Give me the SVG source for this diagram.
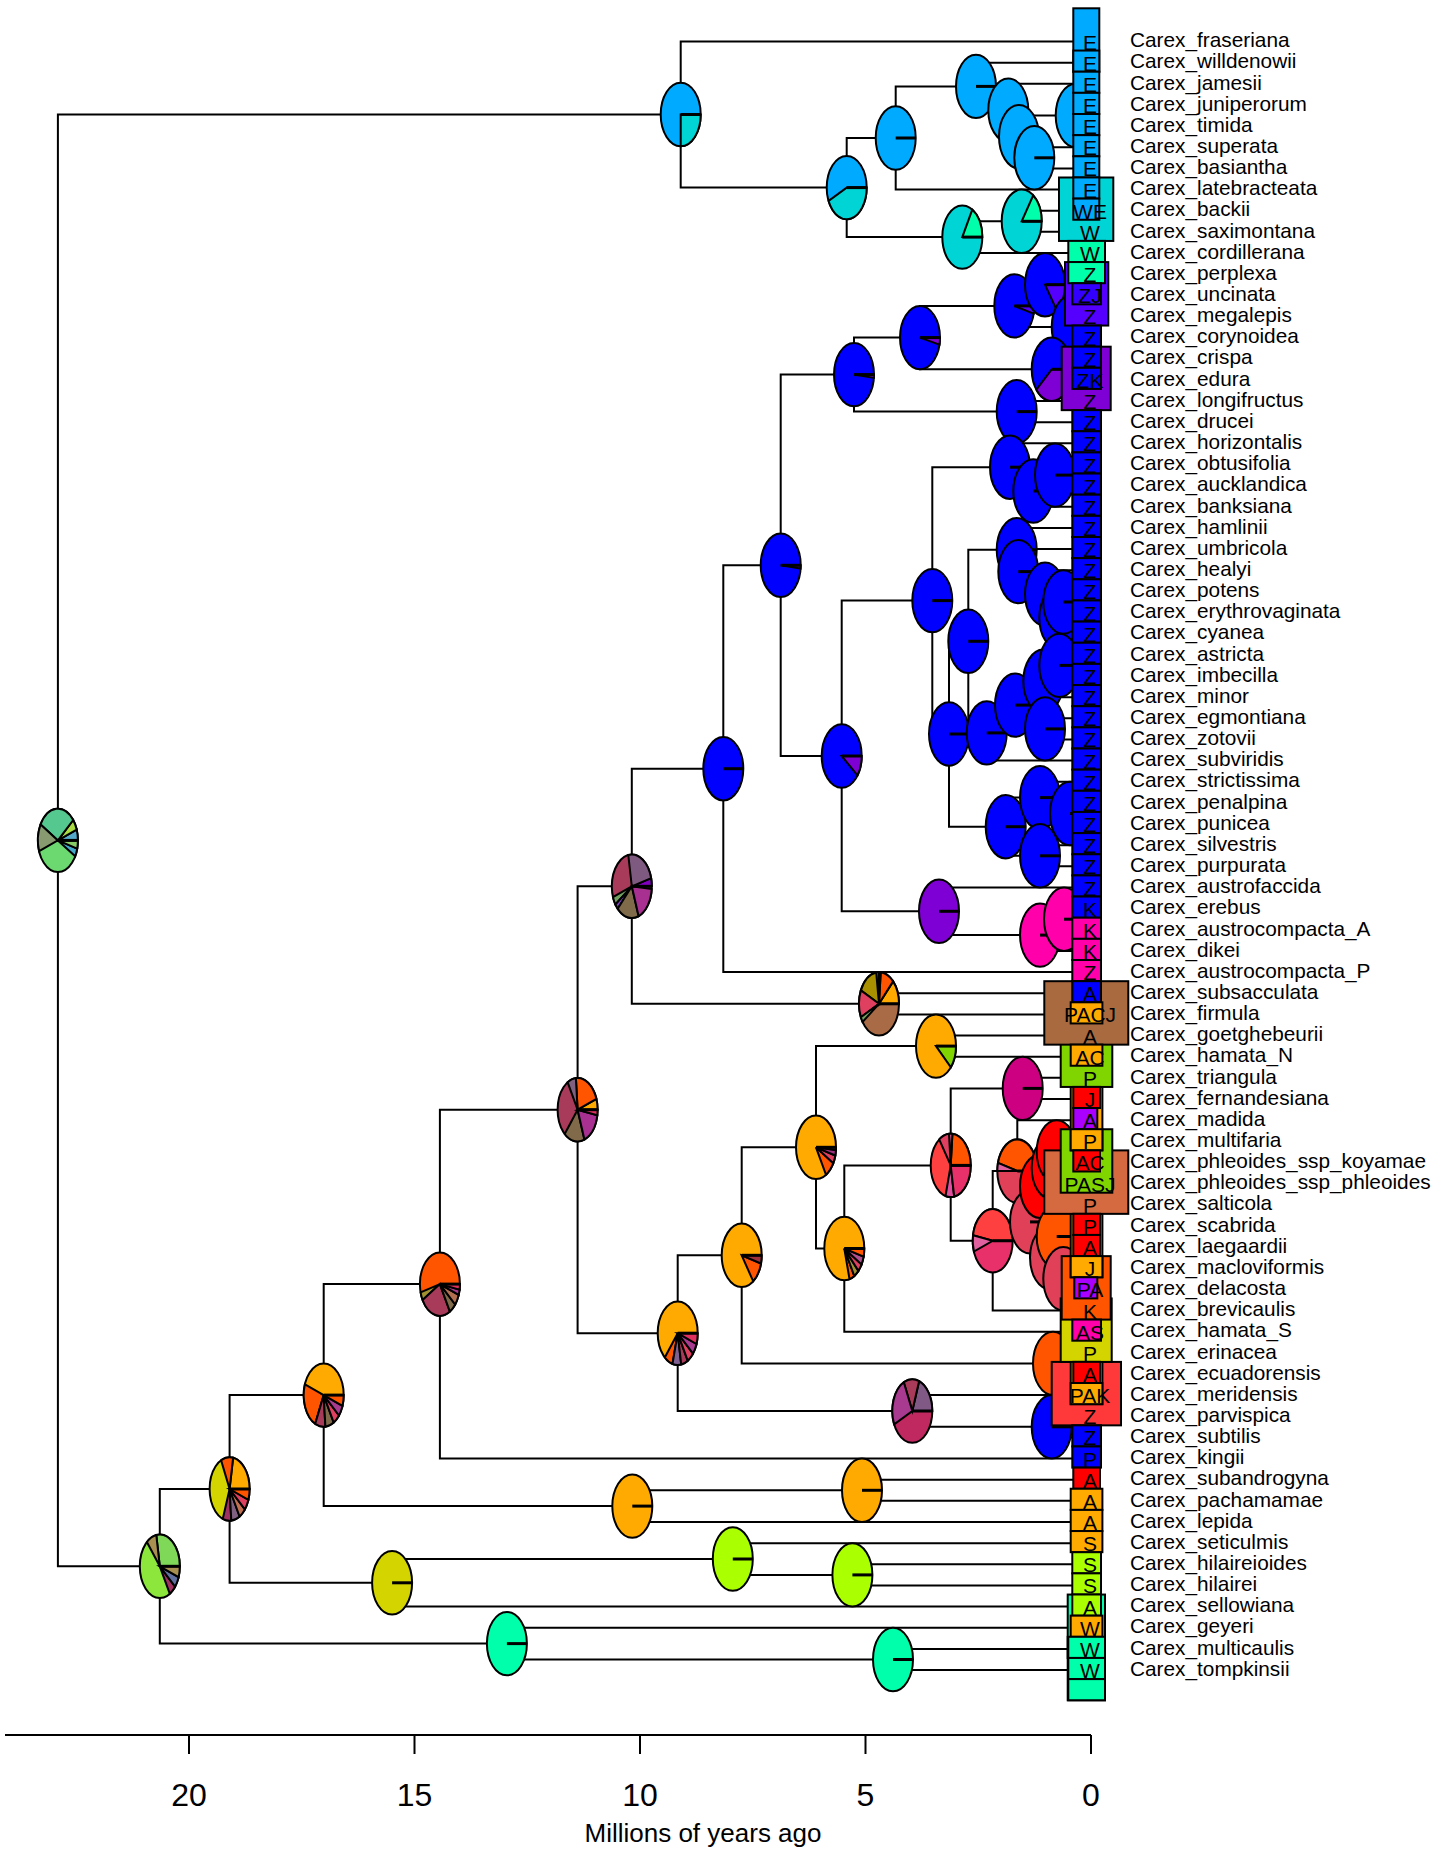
<svg xmlns="http://www.w3.org/2000/svg" width="1445" height="1849" viewBox="0 0 1445 1849">
<style>
.tree polyline{fill:none;stroke:#000;stroke-width:2}
.pie ellipse,.pie path{stroke:#000;stroke-width:2}
.pie path.ea{fill:none;stroke-width:3}
.bx rect{stroke:#000;stroke-width:2}
text{font-family:"Liberation Sans",Arial,sans-serif;fill:#000}
.lb{font-size:20.8px}
.lt{font-size:21px;text-anchor:middle}
.ax{font-size:32px;text-anchor:middle}
.E{fill:#00AAFF}.W{fill:#00FFAA}.Z{fill:#0000FF}.J{fill:#AA00FF}.K{fill:#FF00AA}.P{fill:#FF0000}.A{fill:#FFAA00}.S{fill:#AAFF00}
.WE{fill:#00D4D4}.ZJ{fill:#5500FF}.ZK{fill:#7F00D4}.OR{fill:#FF5500}.YE{fill:#D4D400}.LI{fill:#80D400}.RO{fill:#E04058}
</style>
<rect width="1445" height="1849" fill="#fff"/>
<g id="connectors" class="tree">
<polyline points="680.7,114.5 57.9,114.5 57.9,1566.3 159.8,1566.3"/>
<polyline points="1091,41.5 680.7,41.5 680.7,187.6 846.7,187.6"/>
<polyline points="895.7,138 846.7,138 846.7,237.1 962.3,237.1"/>
<polyline points="976,86.4 895.7,86.4 895.7,189.55 1091,189.55"/>
<polyline points="1091,62.65 976,62.65 976,110.2 1008.3,110.2"/>
<polyline points="1091,83.8 1008.3,83.8 1008.3,136.7 1019,136.7"/>
<polyline points="1075.7,115.5 1019,115.5 1019,157.8 1034.3,157.8"/>
<polyline points="1091,104.95 1075.7,104.95 1075.7,126.1 1091,126.1"/>
<polyline points="1091,147.25 1034.3,147.25 1034.3,168.4 1091,168.4"/>
<polyline points="1021.7,221.3 962.3,221.3 962.3,253 1091,253"/>
<polyline points="1091,210.7 1021.7,210.7 1021.7,231.85 1091,231.85"/>
<polyline points="229.6,1489 159.8,1489 159.8,1643.6 506.9,1643.6"/>
<polyline points="323.7,1395.1 229.6,1395.1 229.6,1582.8 392.1,1582.8"/>
<polyline points="439.9,1284.1 323.7,1284.1 323.7,1506.1 632.3,1506.1"/>
<polyline points="577.6,1109.7 439.9,1109.7 439.9,1458.55 1091,1458.55"/>
<polyline points="631.8,886.3 577.6,886.3 577.6,1333.2 677.7,1333.2"/>
<polyline points="723.3,768.7 631.8,768.7 631.8,1003.8 879,1003.8"/>
<polyline points="780.7,565.3 723.3,565.3 723.3,972.1 1091,972.1"/>
<polyline points="854,374.6 780.7,374.6 780.7,756 841.7,756"/>
<polyline points="920,337.6 854,337.6 854,411.6 1016.7,411.6"/>
<polyline points="1014.3,305.9 920,305.9 920,369.3 1051.7,369.3"/>
<polyline points="1045,284.7 1014.3,284.7 1014.3,327 1071.7,327"/>
<polyline points="1091,274.15 1045,274.15 1045,295.3 1091,295.3"/>
<polyline points="1091,316.45 1071.7,316.45 1071.7,337.6 1091,337.6"/>
<polyline points="1091,358.75 1051.7,358.75 1051.7,379.9 1091,379.9"/>
<polyline points="1091,401.05 1016.7,401.05 1016.7,422.2 1091,422.2"/>
<polyline points="932.3,600.6 841.7,600.6 841.7,911.3 939,911.3"/>
<polyline points="1010,467.2 932.3,467.2 932.3,734 949,734"/>
<polyline points="1091,443.35 1010,443.35 1010,491 1033.3,491"/>
<polyline points="1055,475.1 1033.3,475.1 1033.3,506.8 1091,506.8"/>
<polyline points="1091,464.5 1055,464.5 1055,485.65 1091,485.65"/>
<polyline points="968.3,641.3 949,641.3 949,826.7 1005.7,826.7"/>
<polyline points="1016.7,549.8 968.3,549.8 968.3,732.9 986.7,732.9"/>
<polyline points="1091,527.95 1016.7,527.95 1016.7,571.6 1018.3,571.6"/>
<polyline points="1091,549.1 1018.3,549.1 1018.3,594.1 1045,594.1"/>
<polyline points="1091,570.25 1045,570.25 1045,617.9 1059.3,617.9"/>
<polyline points="1063.3,602 1059.3,602 1059.3,633.7 1091,633.7"/>
<polyline points="1091,591.4 1063.3,591.4 1063.3,612.55 1091,612.55"/>
<polyline points="1015,705.1 986.7,705.1 986.7,760.6 1091,760.6"/>
<polyline points="1043.3,681.3 1015,681.3 1015,728.9 1045,728.9"/>
<polyline points="1059.3,665.4 1043.3,665.4 1043.3,697.15 1091,697.15"/>
<polyline points="1091,654.85 1059.3,654.85 1059.3,676 1091,676"/>
<polyline points="1091,718.3 1045,718.3 1045,739.45 1091,739.45"/>
<polyline points="1040,797.6 1005.7,797.6 1005.7,855.8 1040,855.8"/>
<polyline points="1091,781.75 1040,781.75 1040,813.5 1070,813.5"/>
<polyline points="1091,802.9 1070,802.9 1070,824.05 1091,824.05"/>
<polyline points="1091,845.2 1040,845.2 1040,866.35 1091,866.35"/>
<polyline points="1091,887.5 939,887.5 939,935.1 1040,935.1"/>
<polyline points="1064,919.2 1040,919.2 1040,950.95 1091,950.95"/>
<polyline points="1091,908.65 1064,908.65 1064,929.8 1091,929.8"/>
<polyline points="1091,993.25 879,993.25 879,1014.4 1091,1014.4"/>
<polyline points="741.7,1255.3 677.7,1255.3 677.7,1411 912.3,1411"/>
<polyline points="816,1147.3 741.7,1147.3 741.7,1363.4 1053,1363.4"/>
<polyline points="936,1046.1 816,1046.1 816,1248.5 844.3,1248.5"/>
<polyline points="1091,1035.55 936,1035.55 936,1056.7 1091,1056.7"/>
<polyline points="950.7,1165.4 844.3,1165.4 844.3,1331.65 1091,1331.65"/>
<polyline points="1022.7,1088.4 950.7,1088.4 950.7,1240.75 992.7,1240.75"/>
<polyline points="1091,1077.85 1022.7,1077.85 1022.7,1099 1091,1099"/>
<polyline points="1017.3,1171 992.7,1171 992.7,1310.5 1091,1310.5"/>
<polyline points="1091,1120.15 1017.3,1120.15 1017.3,1221.9 1030,1221.9"/>
<polyline points="1040,1186.2 1030,1186.2 1030,1257.6 1050,1257.6"/>
<polyline points="1051.7,1167.7 1040,1167.7 1040,1204.75 1091,1204.75"/>
<polyline points="1056.7,1151.9 1051.7,1151.9 1051.7,1183.6 1091,1183.6"/>
<polyline points="1091,1141.3 1056.7,1141.3 1056.7,1162.45 1091,1162.45"/>
<polyline points="1056.7,1236.5 1050,1236.5 1050,1278.8 1063.3,1278.8"/>
<polyline points="1091,1225.9 1056.7,1225.9 1056.7,1247.05 1091,1247.05"/>
<polyline points="1091,1268.2 1063.3,1268.2 1063.3,1289.35 1091,1289.35"/>
<polyline points="1091,1352.8 1053,1352.8 1053,1373.95 1091,1373.95"/>
<polyline points="1091,1395.1 912.3,1395.1 912.3,1426.8 1051.7,1426.8"/>
<polyline points="1091,1416.25 1051.7,1416.25 1051.7,1437.4 1091,1437.4"/>
<polyline points="862,1490.3 632.3,1490.3 632.3,1522 1091,1522"/>
<polyline points="1091,1479.7 862,1479.7 862,1500.85 1091,1500.85"/>
<polyline points="732.8,1559 392.1,1559 392.1,1606.6 1091,1606.6"/>
<polyline points="1091,1543.15 732.8,1543.15 732.8,1574.9 852.4,1574.9"/>
<polyline points="1091,1564.3 852.4,1564.3 852.4,1585.45 1091,1585.45"/>
<polyline points="1091,1627.75 506.9,1627.75 506.9,1659.5 893,1659.5"/>
<polyline points="1091,1648.9 893,1648.9 893,1670.05 1091,1670.05"/>
</g>
<g id="pies" class="pie">
<g id="node-root"><ellipse cx="57.9" cy="840.4" rx="20" ry="31.7" fill="#6CD870"/><path d="M57.9 840.4L77.9 840.4A20 31.7 0 0 0 76.7 829.6Z" fill="#55AACC"/><path d="M57.9 840.4L76.7 829.6A20 31.7 0 0 0 73.2 820Z" fill="#AADD44"/><path d="M57.9 840.4L73.2 820A20 31.7 0 0 0 40.6 824.5Z" fill="#55C890"/><path d="M57.9 840.4L40.6 824.5A20 31.7 0 0 0 39.1 851.2Z" fill="#889A70"/><path d="M57.9 840.4L75.2 856.3A20 31.7 0 0 0 77.2 848.6Z" fill="#44AACC"/><path d="M57.9 840.4L77.2 848.6A20 31.7 0 0 0 77.9 840.4Z" fill="#88CC66"/><path class="ea" d="M57.9 840.4h20"/></g>
<g id="node-A"><ellipse cx="680.7" cy="114.5" rx="20" ry="31.7" class="E"/><path d="M680.7 114.5L680.7 146.2A20 31.7 0 0 0 700.7 114.5Z" class="WE"/><path class="ea" d="M680.7 114.5h20"/></g>
<g id="node-B"><ellipse cx="846.7" cy="187.6" rx="20" ry="31.7" class="E"/><path d="M846.7 187.6L828.6 201A20 31.7 0 0 0 866.7 187.6Z" class="WE"/><path class="ea" d="M846.7 187.6h20"/></g>
<g id="node-C"><ellipse cx="895.7" cy="138" rx="20" ry="31.7" class="E"/><path class="ea" d="M895.7 138h20"/></g>
<g id="node-E"><ellipse cx="976" cy="86.4" rx="20" ry="31.7" class="E"/><path class="ea" d="M976 86.4h20"/></g>
<g id="node-F"><ellipse cx="1008.3" cy="110.2" rx="20" ry="31.7" class="E"/><path class="ea" d="M1008.3 110.2h20"/></g>
<g id="node-G"><ellipse cx="1019" cy="136.7" rx="20" ry="31.7" class="E"/><path class="ea" d="M1019 136.7h20"/></g>
<g id="node-I"><ellipse cx="1075.7" cy="115.5" rx="20" ry="31.7" class="E"/><path class="ea" d="M1075.7 115.5h20"/></g>
<g id="node-H"><ellipse cx="1034.3" cy="157.8" rx="20" ry="31.7" class="E"/><path class="ea" d="M1034.3 157.8h20"/></g>
<g id="node-D"><ellipse cx="962.3" cy="237.1" rx="20" ry="31.7" class="WE"/><path d="M962.3 237.1L982.3 237.1A20 31.7 0 0 0 972.3 209.6Z" class="W"/><path class="ea" d="M962.3 237.1h20"/></g>
<g id="node-D2"><ellipse cx="1021.7" cy="221.3" rx="20" ry="31.7" class="WE"/><path d="M1021.7 221.3L1041.7 221.3A20 31.7 0 0 0 1033.2 195.3Z" class="W"/><path class="ea" d="M1021.7 221.3h20"/></g>
<g id="node-N6"><ellipse cx="159.8" cy="1566.3" rx="20" ry="31.7" fill="#8CE63C"/><path d="M159.8 1566.3L179.8 1566.3A20 31.7 0 0 0 156.3 1535.1Z" fill="#80D858"/><path d="M159.8 1566.3L156.3 1535.1A20 31.7 0 0 0 146.9 1542Z" fill="#A89050"/><path d="M159.8 1566.3L169.8 1593.8A20 31.7 0 0 0 175.1 1586.7Z" fill="#A03060"/><path d="M159.8 1566.3L175.1 1586.7A20 31.7 0 0 0 178.6 1577.1Z" fill="#6070A0"/><path d="M159.8 1566.3L178.6 1577.1A20 31.7 0 0 0 179.8 1566.3Z" fill="#A89050"/><path class="ea" d="M159.8 1566.3h20"/></g>
<g id="node-N5"><ellipse cx="229.6" cy="1489" rx="20" ry="31.7" class="YE"/><path d="M229.6 1489L249.6 1489A20 31.7 0 0 0 233.1 1457.8Z" class="A"/><path d="M229.6 1489L233.1 1457.8A20 31.7 0 0 0 221.1 1460.3Z" class="OR"/><path d="M229.6 1489L222.8 1518.8A20 31.7 0 0 0 231.3 1520.6Z" fill="#A03060"/><path d="M229.6 1489L231.3 1520.6A20 31.7 0 0 0 239.6 1516.5Z" fill="#806080"/><path d="M229.6 1489L239.6 1516.5A20 31.7 0 0 0 244.9 1509.4Z" fill="#C07050"/><path d="M229.6 1489L244.9 1509.4A20 31.7 0 0 0 248.4 1499.8Z" fill="#E04060"/><path d="M229.6 1489L248.4 1499.8A20 31.7 0 0 0 249.6 1489Z" class="OR"/><path class="ea" d="M229.6 1489h20"/></g>
<g id="node-N4"><ellipse cx="323.7" cy="1395.1" rx="20" ry="31.7" class="A"/><path d="M323.7 1395.1L304.9 1384.3A20 31.7 0 0 0 315.2 1423.8Z" class="OR"/><path d="M323.7 1395.1L315.2 1423.8A20 31.7 0 0 0 325.4 1426.7Z" fill="#A83A5A"/><path d="M323.7 1395.1L325.4 1426.7A20 31.7 0 0 0 333.7 1422.6Z" fill="#806A4A"/><path d="M323.7 1395.1L333.7 1422.6A20 31.7 0 0 0 339 1415.5Z" fill="#E04060"/><path d="M323.7 1395.1L339 1415.5A20 31.7 0 0 0 342.5 1405.9Z" fill="#A83A90"/><path d="M323.7 1395.1L342.5 1405.9A20 31.7 0 0 0 343.7 1395.1Z" class="OR"/><path class="ea" d="M323.7 1395.1h20"/></g>
<g id="node-N3"><ellipse cx="439.9" cy="1284.1" rx="20" ry="31.7" class="OR"/><path d="M439.9 1284.1L420.6 1292.3A20 31.7 0 0 0 422.6 1300Z" fill="#A09030"/><path d="M439.9 1284.1L422.6 1300A20 31.7 0 0 0 449.9 1311.6Z" fill="#A83A5A"/><path d="M439.9 1284.1L449.9 1311.6A20 31.7 0 0 0 455.2 1304.5Z" fill="#806A4A"/><path d="M439.9 1284.1L455.2 1304.5A20 31.7 0 0 0 458.7 1294.9Z" fill="#B07050"/><path d="M439.9 1284.1L458.7 1294.9A20 31.7 0 0 0 459.6 1289.6Z" fill="#A83A8A"/><path d="M439.9 1284.1L459.6 1289.6A20 31.7 0 0 0 459.9 1284.1Z" fill="#E03060"/><path class="ea" d="M439.9 1284.1h20"/></g>
<g id="node-N2"><ellipse cx="577.6" cy="1109.7" rx="20" ry="31.7" fill="#A83A5A"/><path d="M577.6 1109.7L597.6 1109.7A20 31.7 0 0 0 596.4 1098.9Z" class="A"/><path d="M577.6 1109.7L596.4 1098.9A20 31.7 0 0 0 575.9 1078.1Z" class="OR"/><path d="M577.6 1109.7L575.9 1078.1A20 31.7 0 0 0 567.6 1082.2Z" fill="#806080"/><path d="M577.6 1109.7L564.7 1134A20 31.7 0 0 0 584.4 1139.5Z" fill="#806A4A"/><path d="M577.6 1109.7L584.4 1139.5A20 31.7 0 0 0 597.3 1115.2Z" fill="#A83090"/><path d="M577.6 1109.7L597.3 1115.2A20 31.7 0 0 0 597.6 1109.7Z" fill="#E03060"/><path class="ea" d="M577.6 1109.7h20"/></g>
<g id="node-N1"><ellipse cx="631.8" cy="886.3" rx="20" ry="31.7" fill="#A83A5A"/><path d="M631.8 886.3L651.8 886.3A20 31.7 0 0 0 651.1 878.1Z" fill="#8000C0"/><path d="M631.8 886.3L651.1 878.1A20 31.7 0 0 0 628.3 855.1Z" fill="#7F5A80"/><path d="M631.8 886.3L613 897.1A20 31.7 0 0 0 615.4 904.5Z" fill="#70A060"/><path d="M631.8 886.3L615.4 904.5A20 31.7 0 0 0 617.7 908.7Z" fill="#8040C0"/><path d="M631.8 886.3L617.7 908.7A20 31.7 0 0 0 638.6 916.1Z" fill="#7F6A4A"/><path d="M631.8 886.3L638.6 916.1A20 31.7 0 0 0 651.7 889.1Z" fill="#A83090"/><path class="ea" d="M631.8 886.3h20"/></g>
<g id="node-Z"><ellipse cx="723.3" cy="768.7" rx="20" ry="31.7" class="Z"/><path class="ea" d="M723.3 768.7h20"/></g>
<g id="node-Z0"><ellipse cx="780.7" cy="565.3" rx="20" ry="31.7" class="Z"/><path d="M780.7 565.3L800.6 568.6A20 31.7 0 0 0 800.7 565.3Z" class="ZK"/><path class="ea" d="M780.7 565.3h20"/></g>
<g id="node-Z1"><ellipse cx="854" cy="374.6" rx="20" ry="31.7" class="Z"/><path d="M854 374.6L873.9 377.9A20 31.7 0 0 0 874 374.6Z" class="ZK"/><path class="ea" d="M854 374.6h20"/></g>
<g id="node-Z2"><ellipse cx="920" cy="337.6" rx="20" ry="31.7" class="Z"/><path d="M920 337.6L939.5 344.7A20 31.7 0 0 0 940 337.6Z" class="ZK"/><path class="ea" d="M920 337.6h20"/></g>
<g id="node-Z3"><ellipse cx="1014.3" cy="305.9" rx="20" ry="31.7" class="Z"/><path d="M1014.3 305.9L1033.7 313.6A20 31.7 0 0 0 1034.3 305.9Z" class="ZJ"/><path class="ea" d="M1014.3 305.9h20"/></g>
<g id="node-Z4"><ellipse cx="1045" cy="284.7" rx="20" ry="31.7" class="Z"/><path d="M1045 284.7L1056.8 310.3A20 31.7 0 0 0 1065 284.7Z" class="ZJ"/><path class="ea" d="M1045 284.7h20"/></g>
<g id="node-Z5"><ellipse cx="1071.7" cy="327" rx="20" ry="31.7" class="Z"/><path class="ea" d="M1071.7 327h20"/></g>
<g id="node-Z6"><ellipse cx="1051.7" cy="369.3" rx="20" ry="31.7" class="Z"/><path d="M1051.7 369.3L1036.4 389.7A20 31.7 0 0 0 1071.7 369.3Z" class="ZK"/><path class="ea" d="M1051.7 369.3h20"/></g>
<g id="node-Z9"><ellipse cx="1016.7" cy="411.6" rx="20" ry="31.7" class="Z"/><path class="ea" d="M1016.7 411.6h20"/></g>
<g id="node-P0"><ellipse cx="841.7" cy="756" rx="20" ry="31.7" class="Z"/><path d="M841.7 756L857.5 775.5A20 31.7 0 0 0 861.7 756Z" class="ZK"/><path class="ea" d="M841.7 756h20"/></g>
<g id="node-P1"><ellipse cx="932.3" cy="600.6" rx="20" ry="31.7" class="Z"/><path class="ea" d="M932.3 600.6h20"/></g>
<g id="node-Q1"><ellipse cx="1010" cy="467.2" rx="20" ry="31.7" class="Z"/><path class="ea" d="M1010 467.2h20"/></g>
<g id="node-Q3"><ellipse cx="1033.3" cy="491" rx="20" ry="31.7" class="Z"/><path class="ea" d="M1033.3 491h20"/></g>
<g id="node-Q4"><ellipse cx="1055" cy="475.1" rx="20" ry="31.7" class="Z"/><path class="ea" d="M1055 475.1h20"/></g>
<g id="node-Q2"><ellipse cx="949" cy="734" rx="20" ry="31.7" class="Z"/><path class="ea" d="M949 734h20"/></g>
<g id="node-R1"><ellipse cx="968.3" cy="641.3" rx="20" ry="31.7" class="Z"/><path class="ea" d="M968.3 641.3h20"/></g>
<g id="node-R2"><ellipse cx="1016.7" cy="549.8" rx="20" ry="31.7" class="Z"/><path class="ea" d="M1016.7 549.8h20"/></g>
<g id="node-R3"><ellipse cx="1018.3" cy="571.6" rx="20" ry="31.7" class="Z"/><path class="ea" d="M1018.3 571.6h20"/></g>
<g id="node-R4"><ellipse cx="1045" cy="594.1" rx="20" ry="31.7" class="Z"/><path class="ea" d="M1045 594.1h20"/></g>
<g id="node-R4b"><ellipse cx="1059.3" cy="617.9" rx="20" ry="31.7" class="Z"/><path class="ea" d="M1059.3 617.9h20"/></g>
<g id="node-R4c"><ellipse cx="1063.3" cy="602" rx="20" ry="31.7" class="Z"/><path class="ea" d="M1063.3 602h20"/></g>
<g id="node-R5"><ellipse cx="986.7" cy="732.9" rx="20" ry="31.7" class="Z"/><path class="ea" d="M986.7 732.9h20"/></g>
<g id="node-R6"><ellipse cx="1015" cy="705.1" rx="20" ry="31.7" class="Z"/><path class="ea" d="M1015 705.1h20"/></g>
<g id="node-R7"><ellipse cx="1043.3" cy="681.3" rx="20" ry="31.7" class="Z"/><path class="ea" d="M1043.3 681.3h20"/></g>
<g id="node-R7b"><ellipse cx="1059.3" cy="665.4" rx="20" ry="31.7" class="Z"/><path class="ea" d="M1059.3 665.4h20"/></g>
<g id="node-R8"><ellipse cx="1045" cy="728.9" rx="20" ry="31.7" class="Z"/><path class="ea" d="M1045 728.9h20"/></g>
<g id="node-R9"><ellipse cx="1005.7" cy="826.7" rx="20" ry="31.7" class="Z"/><path class="ea" d="M1005.7 826.7h20"/></g>
<g id="node-R10"><ellipse cx="1040" cy="797.6" rx="20" ry="31.7" class="Z"/><path class="ea" d="M1040 797.6h20"/></g>
<g id="node-R11"><ellipse cx="1070" cy="813.5" rx="20" ry="31.7" class="Z"/><path class="ea" d="M1070 813.5h20"/></g>
<g id="node-R12"><ellipse cx="1040" cy="855.8" rx="20" ry="31.7" class="Z"/><path class="ea" d="M1040 855.8h20"/></g>
<g id="node-K1"><ellipse cx="939" cy="911.3" rx="20" ry="31.7" class="ZK"/><path class="ea" d="M939 911.3h20"/></g>
<g id="node-K2"><ellipse cx="1040" cy="935.1" rx="20" ry="31.7" class="K"/><path class="ea" d="M1040 935.1h20"/></g>
<g id="node-K3"><ellipse cx="1064" cy="919.2" rx="20" ry="31.7" class="K"/><path class="ea" d="M1064 919.2h20"/></g>
<g id="node-M"><ellipse cx="879" cy="1003.8" rx="20" ry="31.7" fill="#A86B45"/><path d="M879 1003.8L899 1003.8A20 31.7 0 0 0 893.1 981.4Z" class="A"/><path d="M879 1003.8L893.1 981.4A20 31.7 0 0 0 880.7 972.2Z" class="OR"/><path d="M879 1003.8L880.7 972.2A20 31.7 0 0 0 879 972.1Z" class="LI"/><path d="M879 1003.8L879 972.1A20 31.7 0 0 0 876.2 972.4Z" fill="#E060A0"/><path d="M879 1003.8L876.2 972.4A20 31.7 0 0 0 860.9 990.4Z" fill="#A89000"/><path d="M879 1003.8L860.9 990.4A20 31.7 0 0 0 860.9 1017.2Z" fill="#E04060"/><path d="M879 1003.8L860.9 1017.2A20 31.7 0 0 0 862.6 1022Z" fill="#70A060"/><path class="ea" d="M879 1003.8h20"/></g>
<g id="node-O6"><ellipse cx="677.7" cy="1333.2" rx="20" ry="31.7" class="A"/><path d="M677.7 1333.2L664.8 1357.5A20 31.7 0 0 0 672.5 1363.8Z" class="OR"/><path d="M677.7 1333.2L672.5 1363.8A20 31.7 0 0 0 681.2 1364.4Z" fill="#806090"/><path d="M677.7 1333.2L681.2 1364.4A20 31.7 0 0 0 687.7 1360.7Z" fill="#A83A5A"/><path d="M677.7 1333.2L687.7 1360.7A20 31.7 0 0 0 693 1353.6Z" fill="#E04060"/><path d="M677.7 1333.2L693 1353.6A20 31.7 0 0 0 696.5 1344Z" fill="#A83A90"/><path d="M677.7 1333.2L696.5 1344A20 31.7 0 0 0 697.7 1333.2Z" fill="#E03060"/><path class="ea" d="M677.7 1333.2h20"/></g>
<g id="node-O4"><ellipse cx="741.7" cy="1255.3" rx="20" ry="31.7" class="A"/><path d="M741.7 1255.3L753.2 1281.3A20 31.7 0 0 0 761 1263.5Z" class="OR"/><path d="M741.7 1255.3L761 1263.5A20 31.7 0 0 0 761.7 1255.3Z" fill="#A0303A"/><path class="ea" d="M741.7 1255.3h20"/></g>
<g id="node-O2"><ellipse cx="816" cy="1147.3" rx="20" ry="31.7" class="A"/><path d="M816 1147.3L826 1174.8A20 31.7 0 0 0 833.3 1163.2Z" class="OR"/><path d="M816 1147.3L833.3 1163.2A20 31.7 0 0 0 835.3 1155.5Z" fill="#E04060"/><path d="M816 1147.3L835.3 1155.5A20 31.7 0 0 0 835.9 1150.1Z" fill="#A03080"/><path d="M816 1147.3L835.9 1150.1A20 31.7 0 0 0 836 1147.3Z" fill="#806090"/><path class="ea" d="M816 1147.3h20"/></g>
<g id="node-O1"><ellipse cx="936" cy="1046.1" rx="20" ry="31.7" class="A"/><path d="M936 1046.1L950.9 1067.3A20 31.7 0 0 0 956 1046.1Z" class="LI"/><path class="ea" d="M936 1046.1h20"/></g>
<g id="node-O3"><ellipse cx="844.3" cy="1248.5" rx="20" ry="31.7" class="A"/><path d="M844.3 1248.5L849.5 1279.1A20 31.7 0 0 0 854.3 1276Z" class="OR"/><path d="M844.3 1248.5L854.3 1276A20 31.7 0 0 0 858.4 1270.9Z" fill="#A09030"/><path d="M844.3 1248.5L858.4 1270.9A20 31.7 0 0 0 861.6 1264.4Z" fill="#E04060"/><path d="M844.3 1248.5L861.6 1264.4A20 31.7 0 0 0 863.6 1256.7Z" fill="#B05090"/><path d="M844.3 1248.5L863.6 1256.7A20 31.7 0 0 0 864.3 1248.5Z" class="OR"/><path class="ea" d="M844.3 1248.5h20"/></g>
<g id="node-Red"><ellipse cx="950.7" cy="1165.4" rx="20" ry="31.7" fill="#FF4040"/><path d="M950.7 1165.4L970.7 1165.4A20 31.7 0 0 0 952.4 1133.8Z" class="OR"/><path d="M950.7 1165.4L952.4 1133.8A20 31.7 0 0 0 949 1133.8Z" fill="#E060A0"/><path d="M950.7 1165.4L949 1133.8A20 31.7 0 0 0 939.2 1139.4Z" fill="#E04060"/><path d="M950.7 1165.4L945.5 1196A20 31.7 0 0 0 954.2 1196.6Z" fill="#E050A0"/><path d="M950.7 1165.4L954.2 1196.6A20 31.7 0 0 0 970.7 1165.4Z" fill="#E8306A"/><path class="ea" d="M950.7 1165.4h20"/></g>
<g id="node-Mag"><ellipse cx="1022.7" cy="1088.4" rx="20" ry="31.7" fill="#CC0080"/><path class="ea" d="M1022.7 1088.4h20"/></g>
<g id="node-Y"><ellipse cx="992.7" cy="1240.75" rx="20" ry="31.7" fill="#E8306A"/><path d="M992.7 1240.75L1012.7 1240.75A20 31.7 0 0 0 973 1235.25Z" fill="#FF4040"/><path d="M992.7 1240.75L973 1235.25A20 31.7 0 0 0 973.9 1251.55Z" fill="#E060A0"/><path class="ea" d="M992.7 1240.75h20"/></g>
<g id="node-X"><ellipse cx="1017.3" cy="1171" rx="20" ry="31.7" class="RO"/><path d="M1017.3 1171L1037.3 1171A20 31.7 0 0 0 998 1162.8Z" class="OR"/><path d="M1017.3 1171L998 1162.8A20 31.7 0 0 0 997.3 1171Z" fill="#E060A0"/><path class="ea" d="M1017.3 1171h20"/></g>
<g id="node-Rr"><ellipse cx="1030" cy="1221.9" rx="20" ry="31.7" class="RO"/><path class="ea" d="M1030 1221.9h20"/></g>
<g id="node-S"><ellipse cx="1040" cy="1186.2" rx="20" ry="31.7" class="P"/><path class="ea" d="M1040 1186.2h20"/></g>
<g id="node-s2"><ellipse cx="1051.7" cy="1167.7" rx="20" ry="31.7" class="P"/><path class="ea" d="M1051.7 1167.7h20"/></g>
<g id="node-s1"><ellipse cx="1056.7" cy="1151.9" rx="20" ry="31.7" class="P"/><path class="ea" d="M1056.7 1151.9h20"/></g>
<g id="node-T"><ellipse cx="1050" cy="1257.6" rx="20" ry="31.7" class="RO"/><path class="ea" d="M1050 1257.6h20"/></g>
<g id="node-t1"><ellipse cx="1056.7" cy="1236.5" rx="20" ry="31.7" class="OR"/><path class="ea" d="M1056.7 1236.5h20"/></g>
<g id="node-t3"><ellipse cx="1063.3" cy="1278.8" rx="20" ry="31.7" class="RO"/><path class="ea" d="M1063.3 1278.8h20"/></g>
<g id="node-O5"><ellipse cx="1053" cy="1363.4" rx="20" ry="31.7" class="OR"/><path class="ea" d="M1053 1363.4h20"/></g>
<g id="node-Pur"><ellipse cx="912.3" cy="1411" rx="20" ry="31.7" fill="#C02860"/><path d="M912.3 1411L932.3 1411A20 31.7 0 0 0 919.1 1381.2Z" fill="#805A85"/><path d="M912.3 1411L919.1 1381.2A20 31.7 0 0 0 903.8 1382.3Z" fill="#A83A5A"/><path d="M912.3 1411L903.8 1382.3A20 31.7 0 0 0 894.2 1424.4Z" fill="#A83A90"/><path class="ea" d="M912.3 1411h20"/></g>
<g id="node-Bl"><ellipse cx="1051.7" cy="1426.8" rx="20" ry="31.7" class="Z"/><path class="ea" d="M1051.7 1426.8h20"/></g>
<g id="node-Or1"><ellipse cx="632.3" cy="1506.1" rx="20" ry="31.7" class="A"/><path class="ea" d="M632.3 1506.1h20"/></g>
<g id="node-Or2"><ellipse cx="862" cy="1490.3" rx="20" ry="31.7" class="A"/><path class="ea" d="M862 1490.3h20"/></g>
<g id="node-Ye"><ellipse cx="392.1" cy="1582.8" rx="20" ry="31.7" class="YE"/><path class="ea" d="M392.1 1582.8h20"/></g>
<g id="node-Li1"><ellipse cx="732.8" cy="1559" rx="20" ry="31.7" class="S"/><path class="ea" d="M732.8 1559h20"/></g>
<g id="node-Li2"><ellipse cx="852.4" cy="1574.9" rx="20" ry="31.7" class="S"/><path class="ea" d="M852.4 1574.9h20"/></g>
<g id="node-Sp1"><ellipse cx="506.9" cy="1643.6" rx="20" ry="31.7" class="W"/><path class="ea" d="M506.9 1643.6h20"/></g>
<g id="node-Sp2"><ellipse cx="893" cy="1659.5" rx="20" ry="31.7" class="W"/><path class="ea" d="M893 1659.5h20"/></g>
</g>
<g id="tip-boxes" class="bx">
<rect x="1067.7" y="1636.85" width="37.3" height="63.45" class="W"/>
<rect x="1067.7" y="1594.55" width="37.3" height="63.45" class="W"/>
<rect x="1051.7" y="1361.9" width="69.3" height="63.45" fill="#FF3939"/>
<rect x="1070.7" y="1340.75" width="31.7" height="63.45" class="A"/>
<rect x="1060.7" y="1298.45" width="51" height="63.45" class="YE"/>
<rect x="1061.7" y="1256.15" width="49" height="63.45" class="OR"/>
<rect x="1070.7" y="1213.85" width="31.7" height="63.45" class="A"/>
<rect x="1044.3" y="1150.4" width="84" height="63.45" fill="#D56A40"/>
<rect x="1060.7" y="1129.25" width="51.6" height="63.45" class="LI"/>
<rect x="1070.7" y="1086.95" width="31.7" height="63.45" class="A"/>
<rect x="1060.7" y="1023.5" width="51.6" height="63.45" class="LI"/>
<rect x="1044.3" y="981.2" width="84" height="63.45" fill="#AA6A40"/>
<rect x="1061.7" y="346.7" width="49" height="63.45" class="ZK"/>
<rect x="1065" y="262.1" width="43.3" height="63.45" class="ZJ"/>
<rect x="1059" y="177.5" width="54.3" height="63.45" class="WE"/>
<rect x="1073.3" y="8.3" width="26" height="63.45" class="E"/>
<rect x="1073.3" y="50.55" width="26" height="21.15" class="E"/>
<rect x="1073.3" y="71.7" width="26" height="21.15" class="E"/>
<rect x="1073.3" y="92.85" width="26" height="21.15" class="E"/>
<rect x="1073.3" y="114" width="26" height="21.15" class="E"/>
<rect x="1073.3" y="135.15" width="26" height="21.15" class="E"/>
<rect x="1073.3" y="156.3" width="26" height="21.15" class="E"/>
<rect x="1073.3" y="177.45" width="26" height="21.15" class="E"/>
<rect x="1073.3" y="198.6" width="26" height="21.15" class="E"/>
<rect x="1068.3" y="240.9" width="36.7" height="21.15" class="W"/>
<rect x="1068.3" y="262.05" width="36.7" height="21.15" class="W"/>
<rect x="1072.3" y="283.2" width="28.7" height="21.15" fill="#3300FF"/>
<rect x="1072.3" y="325.5" width="28.7" height="21.15" class="Z"/>
<rect x="1072.3" y="346.65" width="28.7" height="21.15" class="Z"/>
<rect x="1072.3" y="367.8" width="28.7" height="21.15" class="Z"/>
<rect x="1072.3" y="410.1" width="28.7" height="21.15" class="Z"/>
<rect x="1072.3" y="431.25" width="28.7" height="21.15" class="Z"/>
<rect x="1072.3" y="452.4" width="28.7" height="21.15" class="Z"/>
<rect x="1072.3" y="473.55" width="28.7" height="21.15" class="Z"/>
<rect x="1072.3" y="494.7" width="28.7" height="21.15" class="Z"/>
<rect x="1072.3" y="515.85" width="28.7" height="21.15" class="Z"/>
<rect x="1072.3" y="537" width="28.7" height="21.15" class="Z"/>
<rect x="1072.3" y="558.15" width="28.7" height="21.15" class="Z"/>
<rect x="1072.3" y="579.3" width="28.7" height="21.15" class="Z"/>
<rect x="1072.3" y="600.45" width="28.7" height="21.15" class="Z"/>
<rect x="1072.3" y="621.6" width="28.7" height="21.15" class="Z"/>
<rect x="1072.3" y="642.75" width="28.7" height="21.15" class="Z"/>
<rect x="1072.3" y="663.9" width="28.7" height="21.15" class="Z"/>
<rect x="1072.3" y="685.05" width="28.7" height="21.15" class="Z"/>
<rect x="1072.3" y="706.2" width="28.7" height="21.15" class="Z"/>
<rect x="1072.3" y="727.35" width="28.7" height="21.15" class="Z"/>
<rect x="1072.3" y="748.5" width="28.7" height="21.15" class="Z"/>
<rect x="1072.3" y="769.65" width="28.7" height="21.15" class="Z"/>
<rect x="1072.3" y="790.8" width="28.7" height="21.15" class="Z"/>
<rect x="1072.3" y="811.95" width="28.7" height="21.15" class="Z"/>
<rect x="1072.3" y="833.1" width="28.7" height="21.15" class="Z"/>
<rect x="1072.3" y="854.25" width="28.7" height="21.15" class="Z"/>
<rect x="1072.3" y="875.4" width="28.7" height="21.15" class="Z"/>
<rect x="1072.3" y="896.55" width="28.7" height="21.15" class="Z"/>
<rect x="1072.3" y="917.7" width="28.7" height="21.15" class="K"/>
<rect x="1072.3" y="938.85" width="28.7" height="21.15" class="K"/>
<rect x="1072.3" y="960" width="28.7" height="21.15" class="K"/>
<rect x="1072.3" y="981.15" width="28.7" height="21.15" class="Z"/>
<rect x="1070.7" y="1002.3" width="31.7" height="21.15" class="A"/>
<rect x="1070.7" y="1044.6" width="31.7" height="21.15" class="A"/>
<rect x="1073.3" y="1086.9" width="26.7" height="21.15" class="P"/>
<rect x="1073.3" y="1108.05" width="24" height="21.15" class="J"/>
<rect x="1070.7" y="1129.2" width="31.7" height="21.15" class="A"/>
<rect x="1073.3" y="1150.35" width="26.7" height="21.15" class="P"/>
<rect x="1073.3" y="1213.8" width="26.7" height="21.15" class="P"/>
<rect x="1073.3" y="1234.95" width="26.7" height="21.15" class="P"/>
<rect x="1070.7" y="1256.1" width="31.7" height="21.15" class="A"/>
<rect x="1074.3" y="1277.25" width="23" height="21.15" class="J"/>
<rect x="1072.3" y="1319.55" width="28.7" height="21.15" class="K"/>
<rect x="1073.3" y="1361.85" width="26.7" height="21.15" class="P"/>
<rect x="1070.7" y="1383" width="31.7" height="21.15" class="A"/>
<rect x="1072.3" y="1425.3" width="28.7" height="21.15" class="Z"/>
<rect x="1072.3" y="1446.45" width="28.7" height="21.15" class="Z"/>
<rect x="1073.3" y="1467.6" width="26.7" height="21.15" class="P"/>
<rect x="1070.7" y="1488.75" width="31.7" height="21.15" class="A"/>
<rect x="1070.7" y="1509.9" width="31.7" height="21.15" class="A"/>
<rect x="1070.7" y="1531.05" width="31.7" height="21.15" class="A"/>
<rect x="1072.3" y="1552.2" width="28.7" height="21.15" class="S"/>
<rect x="1072.3" y="1573.35" width="28.7" height="21.15" class="S"/>
<rect x="1072.3" y="1594.5" width="28.7" height="21.15" class="S"/>
<rect x="1070.7" y="1615.65" width="31.7" height="21.15" class="A"/>
<rect x="1068.3" y="1636.8" width="36.7" height="21.15" class="W"/>
<rect x="1068.3" y="1657.95" width="36.7" height="21.15" class="W"/>
<rect x="1068.3" y="1679.1" width="36.7" height="21.15" class="W"/>
</g>
<g id="tips">
<g id="tip-1"><text class="lt" x="1090" y="49.5">E</text><text class="lb" x="1130" y="47.2">Carex_fraseriana</text></g>
<g id="tip-2"><text class="lt" x="1090" y="70.65">E</text><text class="lb" x="1130" y="68.35">Carex_willdenowii</text></g>
<g id="tip-3"><text class="lt" x="1090" y="91.8">E</text><text class="lb" x="1130" y="89.5">Carex_jamesii</text></g>
<g id="tip-4"><text class="lt" x="1090" y="112.95">E</text><text class="lb" x="1130" y="110.65">Carex_juniperorum</text></g>
<g id="tip-5"><text class="lt" x="1090" y="134.1">E</text><text class="lb" x="1130" y="131.8">Carex_timida</text></g>
<g id="tip-6"><text class="lt" x="1090" y="155.25">E</text><text class="lb" x="1130" y="152.95">Carex_superata</text></g>
<g id="tip-7"><text class="lt" x="1090" y="176.4">E</text><text class="lb" x="1130" y="174.1">Carex_basiantha</text></g>
<g id="tip-8"><text class="lt" x="1090" y="197.55">E</text><text class="lb" x="1130" y="195.25">Carex_latebracteata</text></g>
<g id="tip-9"><text class="lt" x="1090" y="218.7">WE</text><text class="lb" x="1130" y="216.4">Carex_backii</text></g>
<g id="tip-10"><text class="lt" x="1090" y="239.85">W</text><text class="lb" x="1130" y="237.55">Carex_saximontana</text></g>
<g id="tip-11"><text class="lt" x="1090" y="261">W</text><text class="lb" x="1130" y="258.7">Carex_cordillerana</text></g>
<g id="tip-12"><text class="lt" x="1090" y="282.15">Z</text><text class="lb" x="1130" y="279.85">Carex_perplexa</text></g>
<g id="tip-13"><text class="lt" x="1090" y="303.3">ZJ</text><text class="lb" x="1130" y="301">Carex_uncinata</text></g>
<g id="tip-14"><text class="lt" x="1090" y="324.45">Z</text><text class="lb" x="1130" y="322.15">Carex_megalepis</text></g>
<g id="tip-15"><text class="lt" x="1090" y="345.6">Z</text><text class="lb" x="1130" y="343.3">Carex_corynoidea</text></g>
<g id="tip-16"><text class="lt" x="1090" y="366.75">Z</text><text class="lb" x="1130" y="364.45">Carex_crispa</text></g>
<g id="tip-17"><text class="lt" x="1090" y="387.9">ZK</text><text class="lb" x="1130" y="385.6">Carex_edura</text></g>
<g id="tip-18"><text class="lt" x="1090" y="409.05">Z</text><text class="lb" x="1130" y="406.75">Carex_longifructus</text></g>
<g id="tip-19"><text class="lt" x="1090" y="430.2">Z</text><text class="lb" x="1130" y="427.9">Carex_drucei</text></g>
<g id="tip-20"><text class="lt" x="1090" y="451.35">Z</text><text class="lb" x="1130" y="449.05">Carex_horizontalis</text></g>
<g id="tip-21"><text class="lt" x="1090" y="472.5">Z</text><text class="lb" x="1130" y="470.2">Carex_obtusifolia</text></g>
<g id="tip-22"><text class="lt" x="1090" y="493.65">Z</text><text class="lb" x="1130" y="491.35">Carex_aucklandica</text></g>
<g id="tip-23"><text class="lt" x="1090" y="514.8">Z</text><text class="lb" x="1130" y="512.5">Carex_banksiana</text></g>
<g id="tip-24"><text class="lt" x="1090" y="535.95">Z</text><text class="lb" x="1130" y="533.65">Carex_hamlinii</text></g>
<g id="tip-25"><text class="lt" x="1090" y="557.1">Z</text><text class="lb" x="1130" y="554.8">Carex_umbricola</text></g>
<g id="tip-26"><text class="lt" x="1090" y="578.25">Z</text><text class="lb" x="1130" y="575.95">Carex_healyi</text></g>
<g id="tip-27"><text class="lt" x="1090" y="599.4">Z</text><text class="lb" x="1130" y="597.1">Carex_potens</text></g>
<g id="tip-28"><text class="lt" x="1090" y="620.55">Z</text><text class="lb" x="1130" y="618.25">Carex_erythrovaginata</text></g>
<g id="tip-29"><text class="lt" x="1090" y="641.7">Z</text><text class="lb" x="1130" y="639.4">Carex_cyanea</text></g>
<g id="tip-30"><text class="lt" x="1090" y="662.85">Z</text><text class="lb" x="1130" y="660.55">Carex_astricta</text></g>
<g id="tip-31"><text class="lt" x="1090" y="684">Z</text><text class="lb" x="1130" y="681.7">Carex_imbecilla</text></g>
<g id="tip-32"><text class="lt" x="1090" y="705.15">Z</text><text class="lb" x="1130" y="702.85">Carex_minor</text></g>
<g id="tip-33"><text class="lt" x="1090" y="726.3">Z</text><text class="lb" x="1130" y="724">Carex_egmontiana</text></g>
<g id="tip-34"><text class="lt" x="1090" y="747.45">Z</text><text class="lb" x="1130" y="745.15">Carex_zotovii</text></g>
<g id="tip-35"><text class="lt" x="1090" y="768.6">Z</text><text class="lb" x="1130" y="766.3">Carex_subviridis</text></g>
<g id="tip-36"><text class="lt" x="1090" y="789.75">Z</text><text class="lb" x="1130" y="787.45">Carex_strictissima</text></g>
<g id="tip-37"><text class="lt" x="1090" y="810.9">Z</text><text class="lb" x="1130" y="808.6">Carex_penalpina</text></g>
<g id="tip-38"><text class="lt" x="1090" y="832.05">Z</text><text class="lb" x="1130" y="829.75">Carex_punicea</text></g>
<g id="tip-39"><text class="lt" x="1090" y="853.2">Z</text><text class="lb" x="1130" y="850.9">Carex_silvestris</text></g>
<g id="tip-40"><text class="lt" x="1090" y="874.35">Z</text><text class="lb" x="1130" y="872.05">Carex_purpurata</text></g>
<g id="tip-41"><text class="lt" x="1090" y="895.5">Z</text><text class="lb" x="1130" y="893.2">Carex_austrofaccida</text></g>
<g id="tip-42"><text class="lt" x="1090" y="916.65">K</text><text class="lb" x="1130" y="914.35">Carex_erebus</text></g>
<g id="tip-43"><text class="lt" x="1090" y="937.8">K</text><text class="lb" x="1130" y="935.5">Carex_austrocompacta_A</text></g>
<g id="tip-44"><text class="lt" x="1090" y="958.95">K</text><text class="lb" x="1130" y="956.65">Carex_dikei</text></g>
<g id="tip-45"><text class="lt" x="1090" y="980.1">Z</text><text class="lb" x="1130" y="977.8">Carex_austrocompacta_P</text></g>
<g id="tip-46"><text class="lt" x="1090" y="1001.25">A</text><text class="lb" x="1130" y="998.95">Carex_subsacculata</text></g>
<g id="tip-47"><text class="lt" x="1090" y="1022.4">PACJ</text><text class="lb" x="1130" y="1020.1">Carex_firmula</text></g>
<g id="tip-48"><text class="lt" x="1090" y="1043.55">A</text><text class="lb" x="1130" y="1041.25">Carex_goetghebeurii</text></g>
<g id="tip-49"><text class="lt" x="1090" y="1064.7">AC</text><text class="lb" x="1130" y="1062.4">Carex_hamata_N</text></g>
<g id="tip-50"><text class="lt" x="1090" y="1085.85">P</text><text class="lb" x="1130" y="1083.55">Carex_triangula</text></g>
<g id="tip-51"><text class="lt" x="1090" y="1107">J</text><text class="lb" x="1130" y="1104.7">Carex_fernandesiana</text></g>
<g id="tip-52"><text class="lt" x="1090" y="1128.15">A</text><text class="lb" x="1130" y="1125.85">Carex_madida</text></g>
<g id="tip-53"><text class="lt" x="1090" y="1149.3">P</text><text class="lb" x="1130" y="1147">Carex_multifaria</text></g>
<g id="tip-54"><text class="lt" x="1090" y="1170.45">AC</text><text class="lb" x="1130" y="1168.15">Carex_phleoides_ssp_koyamae</text></g>
<g id="tip-55"><text class="lt" x="1090" y="1191.6">PASJ</text><text class="lb" x="1130" y="1189.3">Carex_phleoides_ssp_phleoides</text></g>
<g id="tip-56"><text class="lt" x="1090" y="1212.75">P</text><text class="lb" x="1130" y="1210.45">Carex_salticola</text></g>
<g id="tip-57"><text class="lt" x="1090" y="1233.9">P</text><text class="lb" x="1130" y="1231.6">Carex_scabrida</text></g>
<g id="tip-58"><text class="lt" x="1090" y="1255.05">A</text><text class="lb" x="1130" y="1252.75">Carex_laegaardii</text></g>
<g id="tip-59"><text class="lt" x="1090" y="1276.2">J</text><text class="lb" x="1130" y="1273.9">Carex_macloviformis</text></g>
<g id="tip-60"><text class="lt" x="1090" y="1297.35">PA</text><text class="lb" x="1130" y="1295.05">Carex_delacosta</text></g>
<g id="tip-61"><text class="lt" x="1090" y="1318.5">K</text><text class="lb" x="1130" y="1316.2">Carex_brevicaulis</text></g>
<g id="tip-62"><text class="lt" x="1090" y="1339.65">AS</text><text class="lb" x="1130" y="1337.35">Carex_hamata_S</text></g>
<g id="tip-63"><text class="lt" x="1090" y="1360.8">P</text><text class="lb" x="1130" y="1358.5">Carex_erinacea</text></g>
<g id="tip-64"><text class="lt" x="1090" y="1381.95">A</text><text class="lb" x="1130" y="1379.65">Carex_ecuadorensis</text></g>
<g id="tip-65"><text class="lt" x="1090" y="1403.1">PAK</text><text class="lb" x="1130" y="1400.8">Carex_meridensis</text></g>
<g id="tip-66"><text class="lt" x="1090" y="1424.25">Z</text><text class="lb" x="1130" y="1421.95">Carex_parvispica</text></g>
<g id="tip-67"><text class="lt" x="1090" y="1445.4">Z</text><text class="lb" x="1130" y="1443.1">Carex_subtilis</text></g>
<g id="tip-68"><text class="lt" x="1090" y="1466.55">P</text><text class="lb" x="1130" y="1464.25">Carex_kingii</text></g>
<g id="tip-69"><text class="lt" x="1090" y="1487.7">A</text><text class="lb" x="1130" y="1485.4">Carex_subandrogyna</text></g>
<g id="tip-70"><text class="lt" x="1090" y="1508.85">A</text><text class="lb" x="1130" y="1506.55">Carex_pachamamae</text></g>
<g id="tip-71"><text class="lt" x="1090" y="1530">A</text><text class="lb" x="1130" y="1527.7">Carex_lepida</text></g>
<g id="tip-72"><text class="lt" x="1090" y="1551.15">S</text><text class="lb" x="1130" y="1548.85">Carex_seticulmis</text></g>
<g id="tip-73"><text class="lt" x="1090" y="1572.3">S</text><text class="lb" x="1130" y="1570">Carex_hilaireioides</text></g>
<g id="tip-74"><text class="lt" x="1090" y="1593.45">S</text><text class="lb" x="1130" y="1591.15">Carex_hilairei</text></g>
<g id="tip-75"><text class="lt" x="1090" y="1614.6">A</text><text class="lb" x="1130" y="1612.3">Carex_sellowiana</text></g>
<g id="tip-76"><text class="lt" x="1090" y="1635.75">W</text><text class="lb" x="1130" y="1633.45">Carex_geyeri</text></g>
<g id="tip-77"><text class="lt" x="1090" y="1656.9">W</text><text class="lb" x="1130" y="1654.6">Carex_multicaulis</text></g>
<g id="tip-78"><text class="lt" x="1090" y="1678.05">W</text><text class="lb" x="1130" y="1675.75">Carex_tompkinsii</text></g>
</g>
<g id="axis" stroke="#000" stroke-width="2">
<line x1="5" y1="1735" x2="1091" y2="1735"/>
<line x1="189" y1="1735" x2="189" y2="1754"/>
<line x1="414.5" y1="1735" x2="414.5" y2="1754"/>
<line x1="640" y1="1735" x2="640" y2="1754"/>
<line x1="865.5" y1="1735" x2="865.5" y2="1754"/>
<line x1="1091" y1="1735" x2="1091" y2="1754"/>
</g>
<g id="axis-labels">
<text class="ax" x="189" y="1806">20</text>
<text class="ax" x="414.5" y="1806">15</text>
<text class="ax" x="640" y="1806">10</text>
<text class="ax" x="865.5" y="1806">5</text>
<text class="ax" x="1091" y="1806">0</text>
<text x="703" y="1842" font-size="26" text-anchor="middle">Millions of years ago</text>
</g>
</svg>
